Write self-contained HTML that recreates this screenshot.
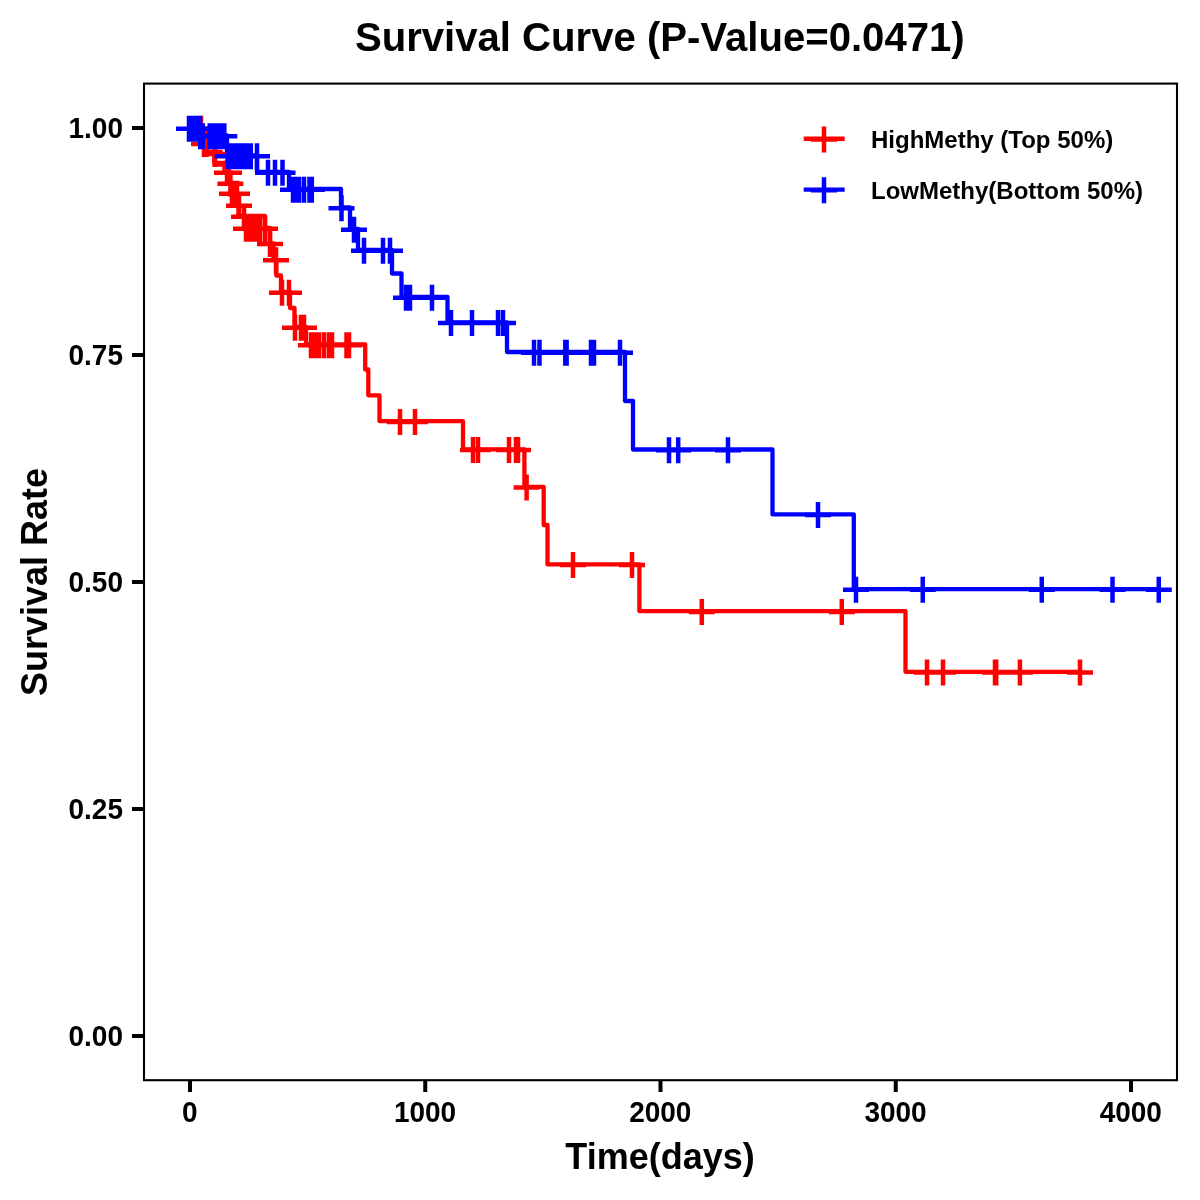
<!DOCTYPE html>
<html><head><meta charset="utf-8"><title>Survival Curve</title>
<style>html,body{margin:0;padding:0;background:#fff;width:1200px;height:1200px;overflow:hidden}svg{display:block;will-change:transform}</style>
</head><body>
<svg width="1200" height="1200" viewBox="0 0 1200 1200">
<rect x="0" y="0" width="1200" height="1200" fill="#fff"/>
<text transform="translate(659.8 51.1) scale(1 1.03)" text-anchor="middle" font-family='"Liberation Sans", Arial, sans-serif' font-weight="bold" font-size="40.12">Survival Curve (P-Value=0.0471)</text>
<g fill="none" stroke-linejoin="round" stroke-linecap="butt">
<path d="M190.00 128.00L202.00 128.00L202.00 143.40L206.50 143.40L206.50 152.00L214.30 152.00L214.30 162.90L224.40 162.90L224.40 172.00L229.00 172.00L229.00 183.00L233.00 183.00L233.00 193.00L236.00 193.00L236.00 205.00L238.50 205.00L238.50 216.00L265.00 216.00L265.00 228.00L270.00 228.00L270.00 243.30L273.50 243.30L273.50 259.50L276.30 259.50L276.30 275.50L281.00 275.50L281.00 292.00L290.00 292.00L290.00 308.00L294.50 308.00L294.50 327.00L306.00 327.00L306.00 344.50L365.20 344.50L365.20 369.50L368.30 369.50L368.30 395.30L379.50 395.30L379.50 421.20L463.00 421.20L463.00 449.40L524.40 449.40L524.40 486.90L543.70 486.90L543.70 525.00L547.50 525.00L547.50 564.40L639.40 564.40L639.40 611.20L905.50 611.20L905.50 671.80L1080.00 671.80" stroke="#FF0000" stroke-width="4.3"/>
<path d="M202 152H222.5M212.5 164.6H223" stroke="#FF0000" stroke-width="4.3"/>
<path d="M190.00 128.00L200.00 128.00L200.00 135.50L227.00 135.50L227.00 155.50L257.00 155.50L257.00 172.00L289.00 172.00L289.00 189.00L341.00 189.00L341.00 207.50L350.00 207.50L350.00 229.00L358.00 229.00L358.00 250.00L392.00 250.00L392.00 273.50L401.50 273.50L401.50 297.00L447.50 297.00L447.50 322.30L507.00 322.30L507.00 352.00L625.00 352.00L625.00 401.00L633.00 401.00L633.00 449.50L772.50 449.50L772.50 514.40L853.80 514.40L853.80 589.10L1158.75 589.10" stroke="#0000FF" stroke-width="4.3"/>
<path d="M188.00 128.70h26.00M201.00 115.70v26.00M191.00 144.10h26.00M204.00 131.10v26.00M193.50 144.10h26.00M206.50 131.10v26.00M202.00 154.10h26.00M215.00 141.10v26.00M214.00 172.70h26.00M227.00 159.70v26.00M216.00 172.70h26.00M229.00 159.70v26.00M217.40 183.70h26.00M230.40 170.70v26.00M219.00 193.70h26.00M232.00 180.70v26.00M224.00 193.70h26.00M237.00 180.70v26.00M226.00 205.70h26.00M239.00 192.70v26.00M231.00 216.70h26.00M244.00 203.70v26.00M233.00 228.70h26.00M246.00 215.70v26.00M235.00 228.70h26.00M248.00 215.70v26.00M239.50 228.70h26.00M252.50 215.70v26.00M243.00 228.70h26.00M256.00 215.70v26.00M247.00 228.70h26.00M260.00 215.70v26.00M252.00 228.70h26.00M265.00 215.70v26.00M257.00 244.00h26.00M270.00 231.00v26.00M263.00 260.20h26.00M276.00 247.20v26.00M269.00 292.70h26.00M282.00 279.70v26.00M276.00 292.70h26.00M289.00 279.70v26.00M282.00 327.70h26.00M295.00 314.70v26.00M288.00 327.70h26.00M301.00 314.70v26.00M291.00 327.70h26.00M304.00 314.70v26.00M298.00 345.20h26.00M311.00 332.20v26.00M302.00 345.20h26.00M315.00 332.20v26.00M306.00 345.20h26.00M319.00 332.20v26.00M311.00 345.20h26.00M324.00 332.20v26.00M316.00 345.20h26.00M329.00 332.20v26.00M319.00 345.20h26.00M332.00 332.20v26.00M333.50 345.20h26.00M346.50 332.20v26.00M336.00 345.20h26.00M349.00 332.20v26.00M387.00 421.90h26.00M400.00 408.90v26.00M402.00 421.90h26.00M415.00 408.90v26.00M460.00 450.10h26.00M473.00 437.10v26.00M465.00 450.10h26.00M478.00 437.10v26.00M496.00 450.10h26.00M509.00 437.10v26.00M503.00 450.10h26.00M516.00 437.10v26.00M505.00 450.10h26.00M518.00 437.10v26.00M513.60 487.60h26.00M526.60 474.60v26.00M560.00 565.10h26.00M573.00 552.10v26.00M619.00 565.10h26.00M632.00 552.10v26.00M688.80 611.90h26.00M701.80 598.90v26.00M828.80 611.90h26.00M841.80 598.90v26.00M914.00 672.50h26.00M927.00 659.50v26.00M930.00 672.50h26.00M943.00 659.50v26.00M982.00 672.50h26.00M995.00 659.50v26.00M983.20 672.50h26.00M996.20 659.50v26.00M1006.90 672.50h26.00M1019.90 659.50v26.00M1067.00 672.50h26.00M1080.00 659.50v26.00" stroke="#FF0000" stroke-width="4.5"/>
<path d="M176.00 128.70h26.00M189.00 115.70v26.00M179.50 128.70h26.00M192.50 115.70v26.00M183.00 128.70h26.00M196.00 115.70v26.00M187.00 128.70h26.00M200.00 115.70v26.00M187.20 136.20h26.00M200.20 123.20v26.00M189.80 136.20h26.00M202.80 123.20v26.00M196.70 136.20h26.00M209.70 123.20v26.00M200.00 136.20h26.00M213.00 123.20v26.00M203.50 136.20h26.00M216.50 123.20v26.00M207.00 136.20h26.00M220.00 123.20v26.00M211.30 136.20h26.00M224.30 123.20v26.00M214.70 156.20h26.00M227.70 143.20v26.00M218.00 156.20h26.00M231.00 143.20v26.00M221.50 156.20h26.00M234.50 143.20v26.00M225.00 156.20h26.00M238.00 143.20v26.00M228.50 156.20h26.00M241.50 143.20v26.00M232.00 156.20h26.00M245.00 143.20v26.00M235.00 156.20h26.00M248.00 143.20v26.00M237.80 156.20h26.00M250.80 143.20v26.00M244.00 156.20h26.00M257.00 143.20v26.00M255.00 172.70h26.00M268.00 159.70v26.00M262.00 172.70h26.00M275.00 159.70v26.00M269.50 172.70h26.00M282.50 159.70v26.00M280.00 189.70h26.00M293.00 176.70v26.00M284.00 189.70h26.00M297.00 176.70v26.00M286.00 189.70h26.00M299.00 176.70v26.00M291.00 189.70h26.00M304.00 176.70v26.00M296.50 189.70h26.00M309.50 176.70v26.00M298.80 189.70h26.00M311.80 176.70v26.00M328.50 208.20h26.00M341.50 195.20v26.00M341.00 229.70h26.00M354.00 216.70v26.00M351.00 250.70h26.00M364.00 237.70v26.00M370.00 250.70h26.00M383.00 237.70v26.00M377.00 250.70h26.00M390.00 237.70v26.00M393.00 297.70h26.00M406.00 284.70v26.00M397.00 297.70h26.00M410.00 284.70v26.00M419.00 297.70h26.00M432.00 284.70v26.00M438.00 323.00h26.00M451.00 310.00v26.00M459.00 323.00h26.00M472.00 310.00v26.00M485.00 323.00h26.00M498.00 310.00v26.00M490.00 323.00h26.00M503.00 310.00v26.00M521.00 352.70h26.00M534.00 339.70v26.00M526.50 352.70h26.00M539.50 339.70v26.00M552.30 352.70h26.00M565.30 339.70v26.00M553.60 352.70h26.00M566.60 339.70v26.00M578.00 352.70h26.00M591.00 339.70v26.00M581.00 352.70h26.00M594.00 339.70v26.00M607.00 352.70h26.00M620.00 339.70v26.00M656.00 450.20h26.00M669.00 437.20v26.00M665.20 450.20h26.00M678.20 437.20v26.00M715.00 450.20h26.00M728.00 437.20v26.00M805.00 515.10h26.00M818.00 502.10v26.00M843.00 589.80h26.00M856.00 576.80v26.00M909.75 589.80h26.00M922.75 576.80v26.00M1028.75 589.80h26.00M1041.75 576.80v26.00M1099.50 589.80h26.00M1112.50 576.80v26.00M1145.75 589.80h26.00M1158.75 576.80v26.00" stroke="#0000FF" stroke-width="4.5"/>
</g>
<rect x="144" y="83.6" width="1033" height="996.6" fill="none" stroke="#000" stroke-width="2.1"/>
<path d="M132 128.00H143M132 355.00H143M132 582.00H143M132 809.00H143M132 1036.00H143M190.00 1081V1092M425.25 1081V1092M660.50 1081V1092M895.75 1081V1092M1131.00 1081V1092" stroke="#000" stroke-width="4" fill="none"/>
<g font-family='"Liberation Sans", Arial, sans-serif' font-weight="bold" font-size="28" fill="#000">
<text transform="translate(123 138.10) scale(1 1.045)" text-anchor="end">1.00</text>
<text transform="translate(123 365.10) scale(1 1.045)" text-anchor="end">0.75</text>
<text transform="translate(123 592.10) scale(1 1.045)" text-anchor="end">0.50</text>
<text transform="translate(123 819.10) scale(1 1.045)" text-anchor="end">0.25</text>
<text transform="translate(123 1046.10) scale(1 1.045)" text-anchor="end">0.00</text>
<text transform="translate(189.80 1122.2) scale(1 1.045)" text-anchor="middle">0</text>
<text transform="translate(425.05 1122.2) scale(1 1.045)" text-anchor="middle">1000</text>
<text transform="translate(660.30 1122.2) scale(1 1.045)" text-anchor="middle">2000</text>
<text transform="translate(895.55 1122.2) scale(1 1.045)" text-anchor="middle">3000</text>
<text transform="translate(1130.80 1122.2) scale(1 1.045)" text-anchor="middle">4000</text>
</g>
<text x="660" y="1168.5" text-anchor="middle" font-family='"Liberation Sans", Arial, sans-serif' font-weight="bold" font-size="36">Time(days)</text>
<text transform="translate(47 582) rotate(-90)" x="0" y="0" text-anchor="middle" font-family='"Liberation Sans", Arial, sans-serif' font-weight="bold" font-size="36">Survival Rate</text>
<path d="M803.7 138.75H844.7" stroke="#FF0000" stroke-width="4.3"/>
<path d="M811.00 139.45h26.00M824.00 126.45v26.00" stroke="#FF0000" stroke-width="4.5"/>
<text x="871" y="148.15" font-family='"Liberation Sans", Arial, sans-serif' font-weight="bold" font-size="24">HighMethy (Top 50%)</text>
<path d="M803.7 189.60H844.7" stroke="#0000FF" stroke-width="4.3"/>
<path d="M811.00 190.30h26.00M824.00 177.30v26.00" stroke="#0000FF" stroke-width="4.5"/>
<text x="871" y="199.00" font-family='"Liberation Sans", Arial, sans-serif' font-weight="bold" font-size="24">LowMethy(Bottom 50%)</text>
</svg>
</body></html>
